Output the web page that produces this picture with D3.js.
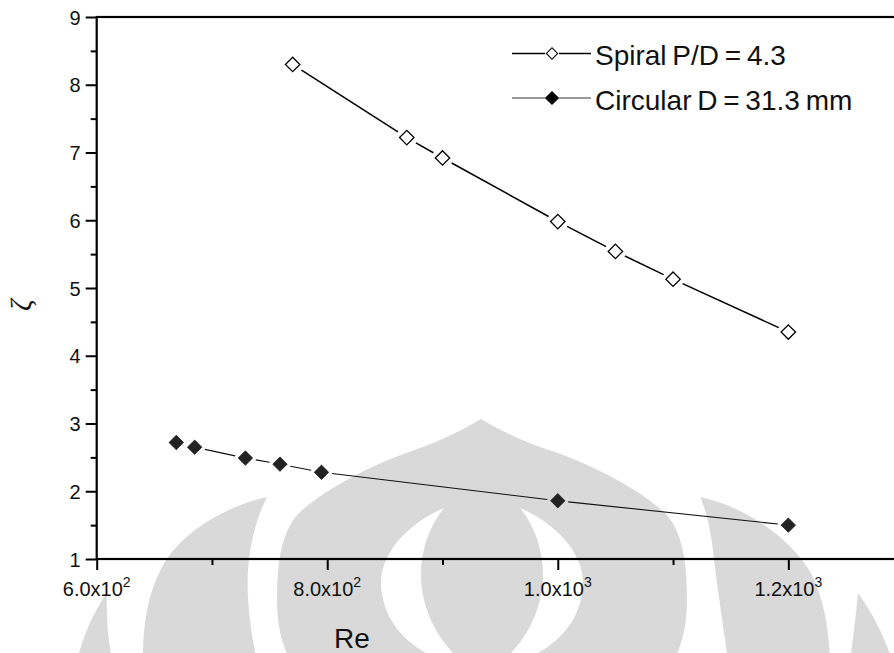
<!DOCTYPE html>
<html><head><meta charset="utf-8">
<script src="https://cdn.jsdelivr.net/npm/d3@7"></script>
<style>
body{margin:0;background:#fff;}
svg{display:block;font-family:"Liberation Sans",Arial,sans-serif;}
</style>
</head><body>
<svg id="c" width="894" height="653"></svg>
<script>
// ---- data ----
const spiralRe   = [770, 869, 900, 1000, 1050, 1100, 1200];
const spiralZeta = [8.30, 7.22, 6.92, 5.98, 5.54, 5.13, 4.35];
const circRe     = [669, 685, 729, 759, 795, 1000, 1200];
const circZeta   = [2.72, 2.65, 2.49, 2.40, 2.28, 1.86, 1.50];
const xTickVals  = [600, 800, 1000, 1200];
const xTickMant  = ["6.0", "8.0", "1.0", "1.2"];
const xTickExp   = ["2", "2", "3", "3"];
const xMinorVals = [700, 900, 1100, 1300];
const yTickVals  = [1, 2, 3, 4, 5, 6, 7, 8, 9];
const yMinorVals = [1.5, 2.5, 3.5, 4.5, 5.5, 6.5, 7.5, 8.5];
const legendLabels = ["Spiral P/D = 4.3", "Circular D = 31.3 mm"];
const xTitle = "Re";
const yTitle = "\u03B6";

// ---- decorative background watermark (light grey logo) ----
const watermark = [
  "M481,419 C460,432 430,445 409,452 C380,462 330,485 300,512 C282,530 277,560 277,600 C277,625 282,645 290,660 L674,660 C682,645 687,625 687,600 C687,560 682,530 664,512 C634,485 584,462 555,452 C532,445 502,432 481,419 Z" +
  " M444,508 C405,525 380,555 381,585 C383,620 405,645 440,660 L460,660 C438,640 426,615 422,590 C418,560 426,530 444,508 Z" +
  " M520,508 C559,525 584,555 583,585 C581,620 559,645 524,660 L504,660 C526,640 538,615 542,590 C546,560 538,530 520,508 Z",
  "M267,497 C230,505 182,530 162,567 C149,592 143,620 143,660 L257,660 C252,640 246,600 248,570 C250,540 258,515 267,497 Z",
  "M700,497 C740,505 790,535 812,575 C824,600 829,630 830,660 L728,660 C724,630 716,580 713,550 C710,525 705,508 700,497 Z",
  "M107,593 C95,610 85,630 77,660 L112,660 C108,640 106,615 107,593 Z",
  "M858,593 C870,610 882,630 892,660 L850,660 C853,640 856,615 858,593 Z"
];

const svg = d3.select("#c");

svg.append("g").selectAll("path").data(watermark).join("path")
  .attr("d", d => d).attr("fill", "#d9d9d9").attr("fill-rule", "evenodd");

const x = d3.scaleLinear().domain([600, 1300]).range([96.7, 96.7 + 700 * 1.1527]);
const y = d3.scaleLinear().domain([1, 9]).range([559, 17]);

// ---- frame ----
const x0 = x.range()[0], x1 = x.range()[1], y0 = y.range()[0], y1 = y.range()[1];
svg.append("rect").attr("x", x0).attr("y", y1).attr("width", x1 - x0).attr("height", y0 - y1)
  .attr("fill", "none").attr("stroke", "#000").attr("stroke-width", 2.2);

// ---- axes ----
const axX = svg.append("g").attr("transform", `translate(0,${y0})`)
  .call(d3.axisBottom(x).tickValues(xTickVals).tickSize(11).tickFormat(""));
axX.select(".domain").remove();
axX.selectAll("line").attr("stroke-width", 2);
const axXm = svg.append("g").attr("transform", `translate(0,${y0})`)
  .call(d3.axisBottom(x).tickValues(xMinorVals).tickSize(6).tickFormat(""));
axXm.select(".domain").remove();
axXm.selectAll("line").attr("stroke-width", 2);

const axY = svg.append("g").attr("transform", `translate(${x0},0)`)
  .call(d3.axisLeft(y).tickValues(yTickVals).tickSize(11).tickPadding(5).tickFormat(d3.format("d")));
axY.select(".domain").remove();
axY.selectAll("line").attr("stroke-width", 2);
axY.attr("font-size", 20).attr("font-family", "Liberation Sans, Arial, sans-serif");
axY.selectAll("text").attr("fill", "#111").attr("dy", "0.36em");
const axYm = svg.append("g").attr("transform", `translate(${x0},0)`)
  .call(d3.axisLeft(y).tickValues(yMinorVals).tickSize(6).tickFormat(""));
axYm.select(".domain").remove();
axYm.selectAll("line").attr("stroke-width", 2);

// x tick labels with superscript exponent
const xl = svg.append("g").selectAll("text").data(xTickVals).join("text")
  .attr("x", d => x(d)).attr("y", 596).attr("text-anchor", "middle")
  .attr("font-size", 20).attr("fill", "#111");
xl.append("tspan").text((d, i) => xTickMant[i] + "x10");
xl.append("tspan").attr("font-size", 14).attr("dy", -9).text((d, i) => xTickExp[i]);

// titles
svg.append("text").attr("x", 352).attr("y", 648).attr("text-anchor", "middle")
  .attr("font-size", 28).attr("fill", "#111").text(xTitle);
svg.append("g").attr("transform", "translate(31,305)")
  .append("text").attr("transform", "rotate(-90)").attr("text-anchor", "middle")
  .attr("font-size", 29).attr("font-family", "Liberation Serif, serif").attr("font-style", "italic")
  .attr("fill", "#111").text(yTitle);

// ---- series ----
const gap = 10.5;
function gappedSegments(xs, ys) {
  const pts = xs.map((v, i) => [x(v), y(ys[i])]);
  const segs = [];
  for (let i = 0; i < pts.length - 1; i++) {
    const [ax, ay] = pts[i], [bx, by] = pts[i + 1];
    const dx = bx - ax, dy = by - ay, L = Math.hypot(dx, dy);
    if (L > 2 * gap + 1) {
      const ux = dx / L, uy = dy / L;
      segs.push([[ax + ux * gap, ay + uy * gap], [bx - ux * gap, by - uy * gap]]);
    }
  }
  return segs;
}
const line = d3.line();
const diamond = d3.symbol().type(d3.symbolSquare).size(104);

svg.append("g").selectAll("path").data(gappedSegments(spiralRe, spiralZeta)).join("path")
  .attr("d", line).attr("stroke", "#000").attr("stroke-width", 1.5).attr("fill", "none");
svg.append("g").selectAll("path").data(gappedSegments(circRe, circZeta)).join("path")
  .attr("d", line).attr("stroke", "#111").attr("stroke-width", 1.1).attr("fill", "none");

svg.append("g").selectAll("path").data(spiralRe).join("path")
  .attr("d", diamond)
  .attr("transform", (d, i) => `translate(${x(d)},${y(spiralZeta[i])}) rotate(45)`)
  .attr("fill", "#fff").attr("stroke", "#000").attr("stroke-width", 1.3);
svg.append("g").selectAll("path").data(circRe).join("path")
  .attr("d", diamond)
  .attr("transform", (d, i) => `translate(${x(d)},${y(circZeta[i])}) rotate(45)`)
  .attr("fill", "#222").attr("stroke", "#222").attr("stroke-width", 0.8);

// ---- legend ----
const legY = [53.5, 98];
const legStroke = [["#000", 1.5], ["#777", 1.5]];
const lg = svg.append("g");
legendLabels.forEach((lab, i) => {
  lg.append("line").attr("x1", 512).attr("x2", 545).attr("y1", legY[i]).attr("y2", legY[i])
    .attr("stroke", legStroke[i][0]).attr("stroke-width", legStroke[i][1]);
  lg.append("line").attr("x1", 559).attr("x2", 591).attr("y1", legY[i]).attr("y2", legY[i])
    .attr("stroke", legStroke[i][0]).attr("stroke-width", legStroke[i][1]);
  lg.append("path").attr("d", d3.symbol().type(d3.symbolSquare).size(i === 0 ? 64 : 80))
    .attr("transform", `translate(552,${legY[i]}) rotate(45)`)
    .attr("fill", i === 0 ? "#fff" : "#000").attr("stroke", "#000").attr("stroke-width", 1.1);
  lg.append("text").attr("x", 595).attr("y", legY[i] + 11.5).attr("font-size", 28)
    .attr("word-spacing", -2).attr("fill", "#111").text(lab);
});
</script>
</body></html>
